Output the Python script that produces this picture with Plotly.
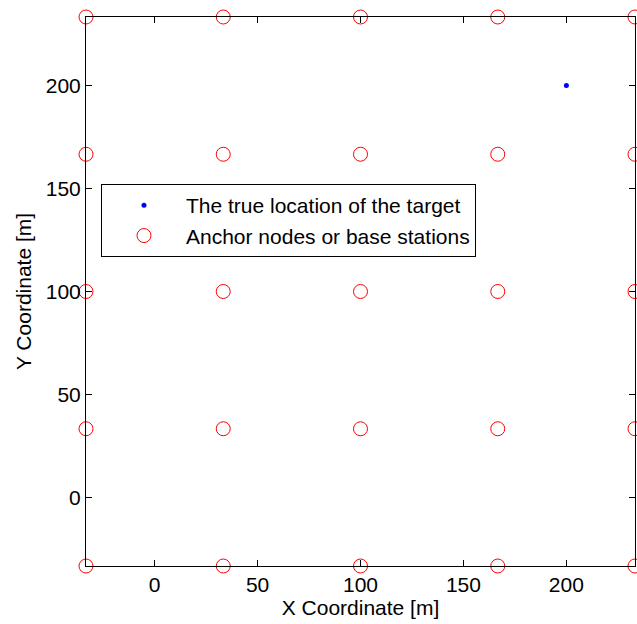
import plotly.graph_objects as go

# Anchor grid positions (same coordinates on both axes)
anchor_coords = [-33.33, 33.33, 100.0, 166.67, 233.33]
anchor_x = [x for y in anchor_coords for x in anchor_coords]
anchor_y = [y for y in anchor_coords for x in anchor_coords]

# True target position
target_x = [200]
target_y = [200]

tick_vals = [0, 50, 100, 150, 200]
axis_range = [-33.33, 233.33]

font = dict(family="Liberation Sans, Arial, sans-serif", size=21, color="black")

fig = go.Figure()
fig.add_trace(go.Scatter(
    x=target_x, y=target_y, mode="markers",
    name="The true location of the target",
    marker=dict(color="blue", size=5, symbol="circle"),
    cliponaxis=False,
))
fig.add_trace(go.Scatter(
    x=anchor_x, y=anchor_y, mode="markers",
    name="Anchor nodes or base stations",
    marker=dict(color="red", size=14, symbol="circle-open",
                line=dict(color="red", width=1)),
    cliponaxis=False,
))

axis_style = dict(
    range=axis_range, tickvals=tick_vals, ticks="inside", ticklen=6,
    tickwidth=1, tickcolor="black", showline=True, linecolor="black",
    linewidth=1, mirror="ticks", showgrid=False, zeroline=False, tickfont=font,
)

fig.update_layout(
    width=637, height=624,
    margin=dict(l=86, r=2, t=17, b=58),
    plot_bgcolor="white", paper_bgcolor="white",
    font=font,
    xaxis=dict(title=dict(text="X Coordinate [m]", font=font, standoff=4), **axis_style),
    yaxis=dict(title=dict(text="Y Coordinate [m]", font=font, standoff=8), **axis_style),
    legend=dict(
        x=0.0273, y=0.6956, xanchor="left", yanchor="top",
        bgcolor="white", bordercolor="black", borderwidth=1,
        font=font, itemwidth=74,
    ),
)

fig.write_html("out.html")
